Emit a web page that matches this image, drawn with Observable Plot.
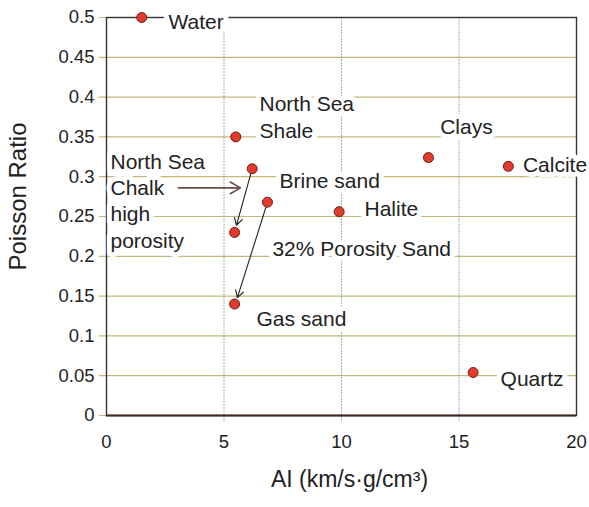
<!DOCTYPE html>
<html>
<head>
<meta charset="utf-8">
<script src="https://cdn.jsdelivr.net/npm/d3@7"></script>
<script src="https://cdn.jsdelivr.net/npm/@observablehq/plot@0.6"></script>
<style>
  html, body { margin: 0; padding: 0; background: #fff; }
  #chart svg { display: block; }
</style>
</head>
<body>
<div id="chart"></div>
<script>
// Materials: acoustic impedance (km/s·g/cm³) and Poisson ratio
const materials = ["Water", "North Sea Shale", "Brine sand", "32% Porosity Sand", "North Sea Chalk", "Gas sand", "Halite", "Clays", "Calcite", "Quartz"];
const aiValues = [1.5, 5.5, 6.2, 6.85, 5.45, 5.45, 9.9, 13.7, 17.1, 15.6];
const poissonValues = [0.5, 0.35, 0.31, 0.268, 0.23, 0.14, 0.256, 0.324, 0.313, 0.054];

// Annotation labels (anchor position in data units)
const labelTexts = ["Water", "North Sea\nShale", "Clays", "Calcite", "Brine sand", "Halite", "32% Porosity Sand", "Gas sand", "Quartz", "North Sea\nChalk\nhigh\nporosity"];
const labelAI = [2.64, 6.51, 14.2, 17.72, 7.36, 10.98, 7.06, 6.38, 16.77, 0.17];
const labelPR = [0.496, 0.376, 0.364, 0.317, 0.296, 0.261, 0.2105, 0.1226, 0.047, 0.271];

// Arrows (from -> to, data units)
const arrowFromAI = [6.2, 6.85];
const arrowFromPR = [0.31, 0.268];
const arrowToAI = [5.53, 5.57];
const arrowToPR = [0.239, 0.148];
// Pointer from the chalk label
const chalkArrowAI = [3.06, 5.7];
const chalkArrowPR = [0.286, 0.286];

const xTicks = [0, 5, 10, 15, 20];
const yTicks = [0, 0.05, 0.1, 0.15, 0.2, 0.25, 0.3, 0.35, 0.4, 0.45, 0.5];
const xTitle = "AI (km/s·g/cm³)";
const yTitle = "Poisson Ratio";

const points = materials.map((m, i) => ({name: m, ai: aiValues[i], pr: poissonValues[i]}));
const labels = labelTexts.map((t, i) => ({text: t, ai: labelAI[i], pr: labelPR[i]}));
const arrows = arrowFromAI.map((_, i) => ({x1: arrowFromAI[i], y1: arrowFromPR[i], x2: arrowToAI[i], y2: arrowToPR[i]}));
const chalkArrow = [{x1: chalkArrowAI[0], y1: chalkArrowPR[0], x2: chalkArrowAI[1], y2: chalkArrowPR[1]}];

const font = "'Liberation Sans', Arial, Helvetica, sans-serif";

const chart = Plot.plot({
  width: 589,
  height: 507,
  marginLeft: 106,
  marginRight: 13,
  marginTop: 17,
  marginBottom: 92,
  style: {fontFamily: font, fontSize: "18px", color: "#222", background: "#fff"},
  x: {domain: [0, 20], ticks: xTicks, label: null},
  y: {domain: [0, 0.5], ticks: yTicks, label: null},
  marks: [
    Plot.gridY(yTicks, {stroke: "#b9ab62", strokeOpacity: 0.85, strokeWidth: 1.2, insetLeft: -7}),
    Plot.gridX(xTicks.slice(1, -1), {stroke: "#8f9aa8", strokeOpacity: 0.8, strokeDasharray: "2,1", insetBottom: -7}),
    Plot.axisY(yTicks, {tickSize: 0, tickPadding: 12, tickFormat: d => String(+d.toFixed(2)), fontSize: 18.5, fill: "#222"}),
    Plot.axisX(xTicks, {tickSize: 0, tickPadding: 19, fontSize: 18.5, fill: "#222"}),
    Plot.frame({stroke: "#3a3030", strokeWidth: 1.4}),
    Plot.ruleY([0], {stroke: "#3a2a20", strokeWidth: 2}),
    Plot.text(labels, {
      x: "ai", y: "pr", text: "text", textAnchor: "start", lineAnchor: "middle",
      lineHeight: 1.25, fontSize: 21, fill: "#222", stroke: "white", strokeWidth: 10
    }),
    Plot.arrow(arrows, {x1: "x1", y1: "y1", x2: "x2", y2: "y2", stroke: "#222", strokeWidth: 1.1, headLength: 11, insetStart: 4}),
    Plot.arrow(chalkArrow, {x1: "x1", y1: "y1", x2: "x2", y2: "y2", stroke: "#6b4b48", strokeWidth: 1.6, headLength: 11}),
    Plot.dot(points, {x: "ai", y: "pr", r: 5, fill: "#e23a2b", stroke: "#6a2018", strokeWidth: 1}),
    Plot.text([yTitle], {frameAnchor: "left", textAnchor: "middle", rotate: -90, dx: -88, dy: -20, fontSize: 24, fill: "#222"}),
    Plot.text([xTitle], {frameAnchor: "bottom", dy: 71, dx: 8, fontSize: 23, fill: "#222"})
  ]
});
document.getElementById("chart").appendChild(chart);
</script>
</body>
</html>
